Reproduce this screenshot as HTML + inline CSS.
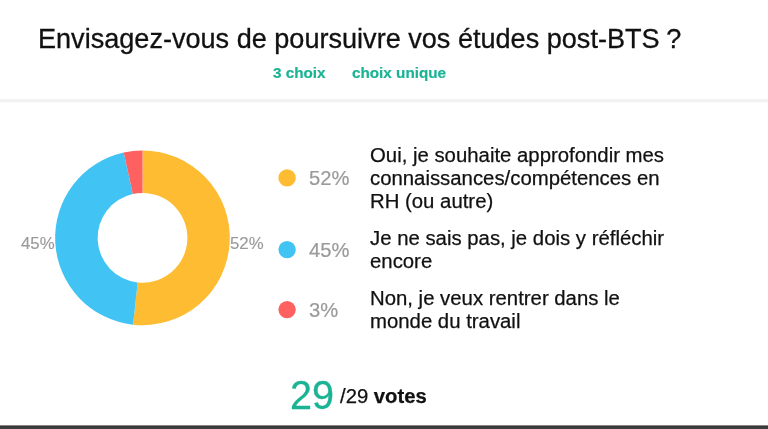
<!DOCTYPE html>
<html><head><meta charset="utf-8">
<style>
html,body{margin:0;padding:0;background:#fff;}
body{width:768px;height:429px;position:relative;overflow:hidden;font-family:"Liberation Sans",sans-serif;color:#1a1a1a;}
.abs{position:absolute;white-space:nowrap;will-change:transform;}
#title{left:38.1px;top:23px;font-size:27.08px;line-height:31px;color:#111;-webkit-text-stroke:0.3px #111;}
.sub{font-size:15.25px;font-weight:bold;color:#1ab394;-webkit-text-stroke:0.2px #1ab394;top:64px;line-height:17px;}
#hr{left:0;top:99px;width:768px;height:4px;background:linear-gradient(#f2f2f2 0,#f2f2f2 75%,#fafafa 75%);}
#bar{left:0;top:425px;width:768px;height:4px;background:linear-gradient(#868686 0,#868686 25%,#363636 25%,#363636 50%,#3f3f3f 50%);}
.pct{font-size:20.2px;color:#9a9a9a;-webkit-text-stroke:0.2px #9a9a9a;line-height:23.15px;left:308.5px;}
.lbl{font-size:20.35px;line-height:23.15px;color:#111;left:369.7px;-webkit-text-stroke:0.25px #111;}
.cl{font-size:16.8px;color:#9a9a9a;-webkit-text-stroke:0.15px #9a9a9a;line-height:20px;}
</style></head><body>
<div class="abs" id="title">Envisagez-vous de poursuivre vos études post-BTS<span style="margin-left:-0.9px"> ?</span></div>
<div class="abs sub" style="left:273px">3 choix</div>
<div class="abs sub" style="left:352px">choix unique</div>
<div class="abs" id="hr"></div>

<svg class="abs" style="left:0;top:102px" width="280" height="260" viewBox="0 102 280 260">
<g id="donut">
<path fill="#febc32" d="M142.50 150.50 A87.35 87.35 0 1 1 133.06 324.69 L137.65 282.49 A44.9 44.9 0 1 0 142.50 192.95 Z"/>
<path fill="#41c4f3" d="M133.06 324.69 A87.35 87.35 0 0 1 123.72 152.54 L132.85 194.00 A44.9 44.9 0 0 0 137.65 282.49 Z"/>
<path fill="#ff6160" d="M123.72 152.54 A87.35 87.35 0 0 1 142.50 150.50 L142.50 192.95 A44.9 44.9 0 0 0 132.85 194.00 Z"/>
</g>
</svg>
<svg class="abs" style="left:270px;top:160px" width="40" height="170" viewBox="270 160 40 170"><circle cx="287.1" cy="177.9" r="8.7" fill="#febc32"/><circle cx="287.1" cy="249.6" r="8.7" fill="#41c4f3"/><circle cx="287.1" cy="309.6" r="8.7" fill="#ff6160"/></svg>
<div class="abs cl" style="left:20.6px;top:234px">45%</div>
<div class="abs cl" style="left:229.6px;top:234px">52%</div>

<div class="abs pct" style="top:166.9px">52%</div>
<div class="abs lbl" style="top:143.9px">Oui, je souhaite approfondir mes<br>connaissances/compétences en<br>RH (ou autre)</div>

<div class="abs pct" style="top:238.4px;transform:translateY(0.5px)">45%</div>
<div class="abs lbl" style="top:227.4px">Je ne sais pas, je dois y réfléchir<br>encore</div>

<div class="abs pct" style="top:298.4px;transform:translateY(0.5px)">3%</div>
<div class="abs lbl" style="top:287.2px">Non, je veux rentrer dans le<br>monde du travail</div>

<div class="abs" style="left:290.3px;top:372px;font-size:39.6px;line-height:46px;color:#1ab394;transform:scaleY(1.03);transform-origin:0 36.9px;-webkit-text-stroke:0.3px #1ab394">29</div>
<div class="abs" style="left:340px;top:384.5px;font-size:20.3px;line-height:23.15px;color:#111;-webkit-text-stroke:0.25px #111">/29 <b>votes</b></div>
<div class="abs" id="bar"></div>
</body></html>
